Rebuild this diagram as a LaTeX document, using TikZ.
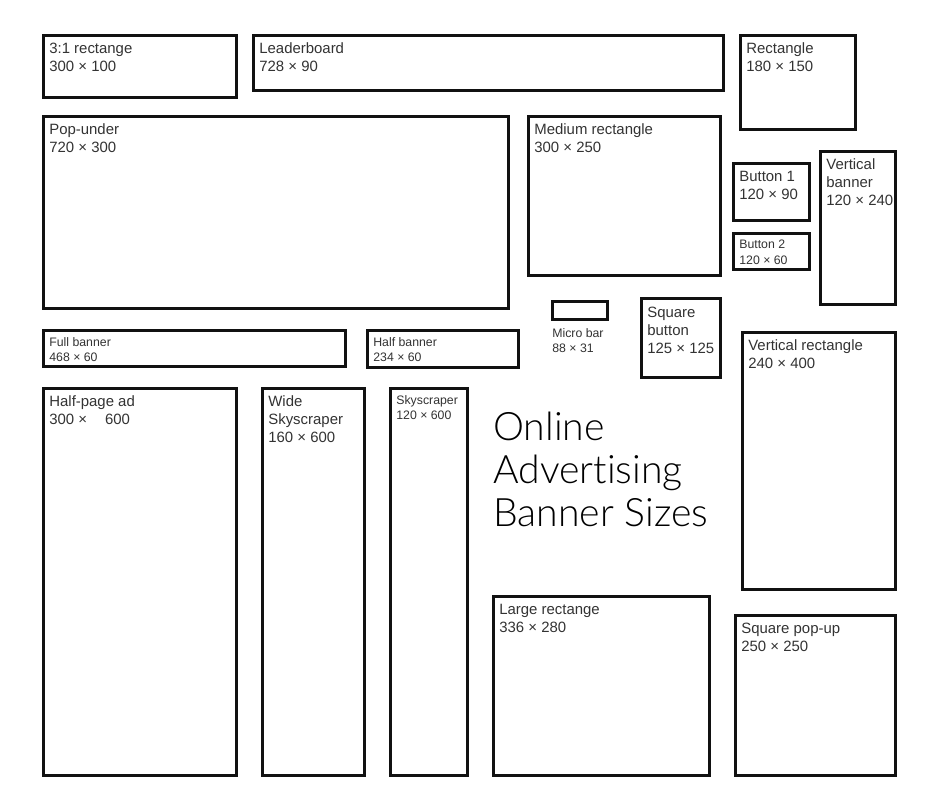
\documentclass[tikz,border=0pt]{standalone}
\usepackage{fontspec}
\setmainfont{Liberation Sans}
\newfontfamily\titlefont{Lato Light}[Ligatures=NoCommon]
\usetikzlibrary{fit}
\definecolor{edge}{HTML}{111111}
\definecolor{tagtext}{HTML}{333333}
\tikzset{banner/.style={draw=edge,line width=1.7pt,rectangle,inner sep=-0.85pt}}
\tikzset{tag/.style={text=tagtext,anchor=north west,inner sep=0pt,align=left,font=\fontsize{8.5}{10.2}\selectfont}}
\tikzset{smalltag/.style={tag,font=\fontsize{7}{8.8}\selectfont}}
\tikzset{headline/.style={anchor=north west,inner sep=0pt,align=left,font=\titlefont\fontsize{22.3}{24.5}\selectfont}}

\begin{document}
\begin{tikzpicture}[x=0.02cm,y=-0.02cm]
                \useasboundingbox[fill=white] (0,0) rectangle (940,811);
                % top row
                \node[banner,fit={(42,34) (238,99)}] (rectA) {};
                \node[banner,fit={(252,34) (725,92)}] (leader) {};
                \node[banner,fit={(739,34) (857,131)}] (rectB) {};
                % middle
                \node[banner,fit={(42,115) (510,310)}] (popunder) {};
                \node[banner,fit={(527,115) (722,277)}] (medrect) {};
                \node[banner,fit={(732,162) (811,222)}] (buttonA) {};
                \node[banner,fit={(732,232) (811,271)}] (buttonB) {};
                \node[banner,fit={(819,150) (897,306)}] (vbanner) {};
                \node[banner,fit={(42,329) (347,368)}] (fullban) {};
                \node[banner,fit={(366,329) (520,369)}] (halfban) {};
                \node[banner,fit={(551,300) (609,321)}] (microbar) {};
                \node[banner,fit={(640,297) (722,379)}] (sqbutton) {};
                \node[banner,fit={(741,331) (897,591)}] (vrect) {};
                % bottom
                \node[banner,fit={(42,387) (238,777)}] (halfpage) {};
                \node[banner,fit={(261,387) (366,777)}] (widesky) {};
                \node[banner,fit={(389,387) (469,777)}] (sky) {};
                \node[banner,fit={(492,595) (711,777)}] (largerect) {};
                \node[banner,fit={(734,614) (897,777)}] (sqpopup) {};
                % labels
                \node[tag] (rectAtag) at ([shift={(7,8.5)}]rectA.north west) {3:1 rectange\\300 × 100};
                \node[tag] (leadertag) at ([shift={(7,8.5)}]leader.north west) {Leaderboard\\728 × 90};
                \node[tag] (rectBtag) at ([shift={(7,8.5)}]rectB.north west) {Rectangle\\180 × 150};
                \node[tag] (popundertag) at ([shift={(7,8.5)}]popunder.north west) {Pop-under\\720 × 300};
                \node[tag] (medrecttag) at ([shift={(7,8.5)}]medrect.north west) {Medium rectangle\\300 × 250};
                \node[tag] (buttonAtag) at ([shift={(7,8.5)}]buttonA.north west) {Button 1\\120 × 90};
                \node[smalltag] (buttonBtag) at ([shift={(7,8)}]buttonB.north west) {Button 2\\120 × 60};
                \node[tag] (vbannertag) at ([shift={(7,8.5)}]vbanner.north west) {Vertical\\banner\\120 × 240};
                \node[smalltag] (fullbantag) at ([shift={(7,8)}]fullban.north west) {Full banner\\468 × 60};
                \node[smalltag] (halfbantag) at ([shift={(7,8)}]halfban.north west) {Half banner\\234 × 60};
                \node[smalltag] (microbartag) at ([shift={(1,7)}]microbar.south west) {Micro bar\\88 × 31};
                \node[tag] (sqbuttontag) at ([shift={(7,10)}]sqbutton.north west) {Square\\button\\125 × 125};
                \node[tag] (vrecttag) at ([shift={(7,8.5)}]vrect.north west) {Vertical rectangle\\240 × 400};
                \node[tag] (halfpagetag) at ([shift={(7,8.5)}]halfpage.north west) {Half-page ad\\300 ×\hspace{1.2em}600};
                \node[tag] (wideskytag) at ([shift={(7,8.5)}]widesky.north west) {Wide\\Skyscraper\\160 × 600};
                \node[smalltag] (skytag) at ([shift={(7,8)}]sky.north west) {Skyscraper\\120 × 600};
                \node[tag] (largerecttag) at ([shift={(7,8.5)}]largerect.north west) {Large rectange\\336 × 280};
                \node[tag] (sqpopuptag) at ([shift={(7,8.5)}]sqpopup.north west) {Square pop-up\\250 × 250};
                % title
                \node[headline] (title) at (493,412) {Online\\Advertising\\Banner Sizes};
                \end{tikzpicture}
\end{document}
